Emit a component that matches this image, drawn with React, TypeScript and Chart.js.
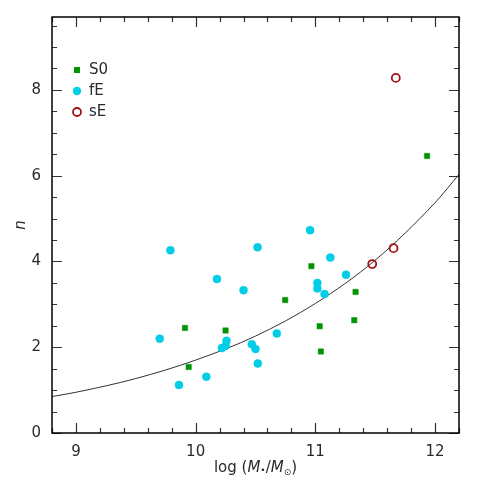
import React, { useEffect, useRef } from 'react';
import { Chart, registerables } from 'chart.js';

Chart.register(...registerables);

// ---- data ----
const s0X = [9.911, 9.942, 10.25, 10.748, 10.967, 11.036, 11.046, 11.336, 11.325, 11.933];
const s0Y = [2.45, 1.54, 2.39, 3.10, 3.89, 2.49, 1.90, 3.29, 2.63, 6.46];

const fEX = [9.70, 9.789, 9.861, 10.089, 10.178, 10.219, 10.25, 10.258, 10.40, 10.469, 10.50, 10.519, 10.517, 10.678, 10.956, 11.017, 11.017, 11.077, 11.125, 11.256];
const fEY = [2.20, 4.26, 1.12, 1.31, 3.59, 1.98, 2.03, 2.15, 3.33, 2.07, 1.96, 1.62, 4.33, 2.32, 4.73, 3.50, 3.37, 3.24, 4.09, 3.69];

const sEX = [11.475, 11.653, 11.672];
const sEY = [3.94, 4.31, 8.28];

const fitX = [8.8, 9.0, 9.5, 10.0, 10.5, 11.0, 11.5, 12.0, 12.2];
const fitY = [0.85, 0.95, 1.27, 1.70, 2.26, 3.02, 4.03, 5.37, 6.03];

const xTickValues = [9, 10, 11, 12];
const yTickValues = [0, 2, 4, 6, 8];
const legendLabels = ['S0', 'fE', 'sE'];

const X_MIN = 8.8;
const X_MAX = 12.2;
const Y_MIN = 0;
const Y_MAX = 9.7;

const GREEN = '#009400';
const CYAN = '#00cde6';
const RED = '#a01414';
const FONT = '"DejaVu Sans", sans-serif';
const TEXT = '#2a2a2a';

const zip = (xs: number[], ys: number[]) => xs.map((x, i) => ({ x, y: ys[i] }));

const framePlugin = {
  id: 'framePlugin',
  afterDraw(chart: any) {
    const { ctx, chartArea } = chart;
    const xs = chart.scales.x;
    const ys = chart.scales.y;
    const { left, right, top, bottom } = chartArea;
    ctx.save();
    // ticks (inward, on all four sides)
    ctx.strokeStyle = '#333';
    ctx.lineWidth = 1.2;
    ctx.beginPath();
    for (let i = 0; i <= 17; i++) {
      const v = X_MIN + i * 0.2;
      const px = Math.round(xs.getPixelForValue(v)) + 0.5;
      const major = Math.abs(v - Math.round(v)) < 1e-6;
      const len = major ? 10 : 5;
      ctx.moveTo(px, bottom);
      ctx.lineTo(px, bottom - len);
      ctx.moveTo(px, top);
      ctx.lineTo(px, top + len);
    }
    for (let i = 0; i <= 19; i++) {
      const v = i * 0.5;
      const py = Math.round(ys.getPixelForValue(v)) + 0.5;
      const major = i % 4 === 0;
      const len = major ? 10 : 5;
      ctx.moveTo(left, py);
      ctx.lineTo(left + len, py);
      ctx.moveTo(right, py);
      ctx.lineTo(right - len, py);
    }
    ctx.stroke();
    // frame
    ctx.strokeStyle = '#000';
    ctx.lineWidth = 1.5;
    ctx.strokeRect(left, top, right - left, bottom - top);

    // legend
    const lx = 77;
    const ly = [70, 91, 112];
    ctx.fillStyle = GREEN;
    ctx.fillRect(lx - 3, ly[0] - 3, 6, 6);
    ctx.fillStyle = CYAN;
    ctx.beginPath();
    ctx.arc(lx, ly[1], 4.2, 0, Math.PI * 2);
    ctx.fill();
    ctx.strokeStyle = RED;
    ctx.lineWidth = 1.8;
    ctx.beginPath();
    ctx.arc(lx, ly[2], 4, 0, Math.PI * 2);
    ctx.stroke();
    ctx.fillStyle = TEXT;
    ctx.font = `15px ${FONT}`;
    ctx.textBaseline = 'middle';
    ctx.textAlign = 'left';
    legendLabels.forEach((t, i) => ctx.fillText(t, 89, ly[i] + 0.5));

    // x axis title: log (M*/M⊙)
    const parts: { t: string; f: string; dy: number }[] = [
      { t: 'log (', f: `15px ${FONT}`, dy: 0 },
      { t: 'M', f: `oblique 15px ${FONT}`, dy: 0 },
      { t: '•', f: `9px ${FONT}`, dy: 1 },
      { t: '/', f: `15px ${FONT}`, dy: 0 },
      { t: 'M', f: `oblique 15px ${FONT}`, dy: 0 },
      { t: '⊙', f: `9px ${FONT}`, dy: 3 },
      { t: ')', f: `15px ${FONT}`, dy: 0 },
    ];
    let total = 0;
    const widths = parts.map((p) => {
      ctx.font = p.f;
      const w = ctx.measureText(p.t).width;
      total += w;
      return w;
    });
    let cx = (left + right) / 2 - total / 2;
    ctx.textBaseline = 'alphabetic';
    parts.forEach((p, i) => {
      ctx.font = p.f;
      ctx.fillText(p.t, cx, 472 + p.dy);
      cx += widths[i];
    });

    // y axis title: n
    ctx.save();
    ctx.translate(21, (top + bottom) / 2);
    ctx.rotate(-Math.PI / 2);
    ctx.font = `oblique 15px ${FONT}`;
    ctx.textAlign = 'center';
    ctx.textBaseline = 'middle';
    ctx.fillText('n', 0, 0);
    ctx.restore();

    ctx.restore();
  },
};

export default function App() {
  const ref = useRef<HTMLCanvasElement>(null);
  useEffect(() => {
    if (!ref.current) return;
    const chart = new Chart(ref.current, {
      type: 'scatter',
      data: {
        datasets: [
          {
            label: 'fit',
            data: zip(fitX, fitY),
            showLine: true,
            borderColor: '#333',
            borderWidth: 1,
            pointRadius: 0,
            cubicInterpolationMode: 'monotone',
            order: 4,
          } as any,
          {
            label: 'fE',
            data: zip(fEX, fEY),
            pointStyle: 'circle',
            pointRadius: 4,
            backgroundColor: CYAN,
            borderColor: CYAN,
            borderWidth: 0.5,
            order: 3,
          },
          {
            label: 'S0',
            data: zip(s0X, s0Y),
            pointStyle: 'rect',
            pointRadius: 3.8,
            backgroundColor: GREEN,
            borderColor: GREEN,
            borderWidth: 0.5,
            order: 2,
          },
          {
            label: 'sE',
            data: zip(sEX, sEY),
            pointStyle: 'circle',
            pointRadius: 4,
            backgroundColor: 'rgba(0,0,0,0)',
            borderColor: RED,
            borderWidth: 1.8,
            order: 1,
          },
        ],
      },
      options: {
        responsive: false,
        animation: false,
        layout: { padding: { left: 0, right: 26, top: 17, bottom: 0 } },
        plugins: { legend: { display: false }, tooltip: { enabled: false } },
        scales: {
          x: {
            type: 'linear',
            min: X_MIN,
            max: X_MAX,
            grid: { display: false },
            border: { display: false },
            afterBuildTicks: (s: any) => {
              s.ticks = xTickValues.map((v) => ({ value: v }));
            },
            afterFit: (s: any) => {
              s.height = 52;
            },
            ticks: {
              color: TEXT,
              font: { family: FONT, size: 15 },
              padding: 2,
              maxRotation: 0,
              callback: (v: any) => String(v),
            },
          },
          y: {
            type: 'linear',
            min: Y_MIN,
            max: Y_MAX,
            grid: { display: false },
            border: { display: false },
            afterBuildTicks: (s: any) => {
              s.ticks = yTickValues.map((v) => ({ value: v }));
            },
            afterFit: (s: any) => {
              s.width = 52;
            },
            ticks: {
              color: TEXT,
              font: { family: FONT, size: 15 },
              padding: 3,
              callback: (v: any) => String(v),
            },
          },
        },
      },
      plugins: [framePlugin],
    });
    return () => chart.destroy();
  }, []);
  return (
    <div style={{ position: 'fixed', left: 0, top: 0, width: 485, height: 485, background: '#fff' }}>
      <canvas ref={ref} width={485} height={485} style={{ width: 485, height: 485, display: 'block' }} />
    </div>
  );
}
